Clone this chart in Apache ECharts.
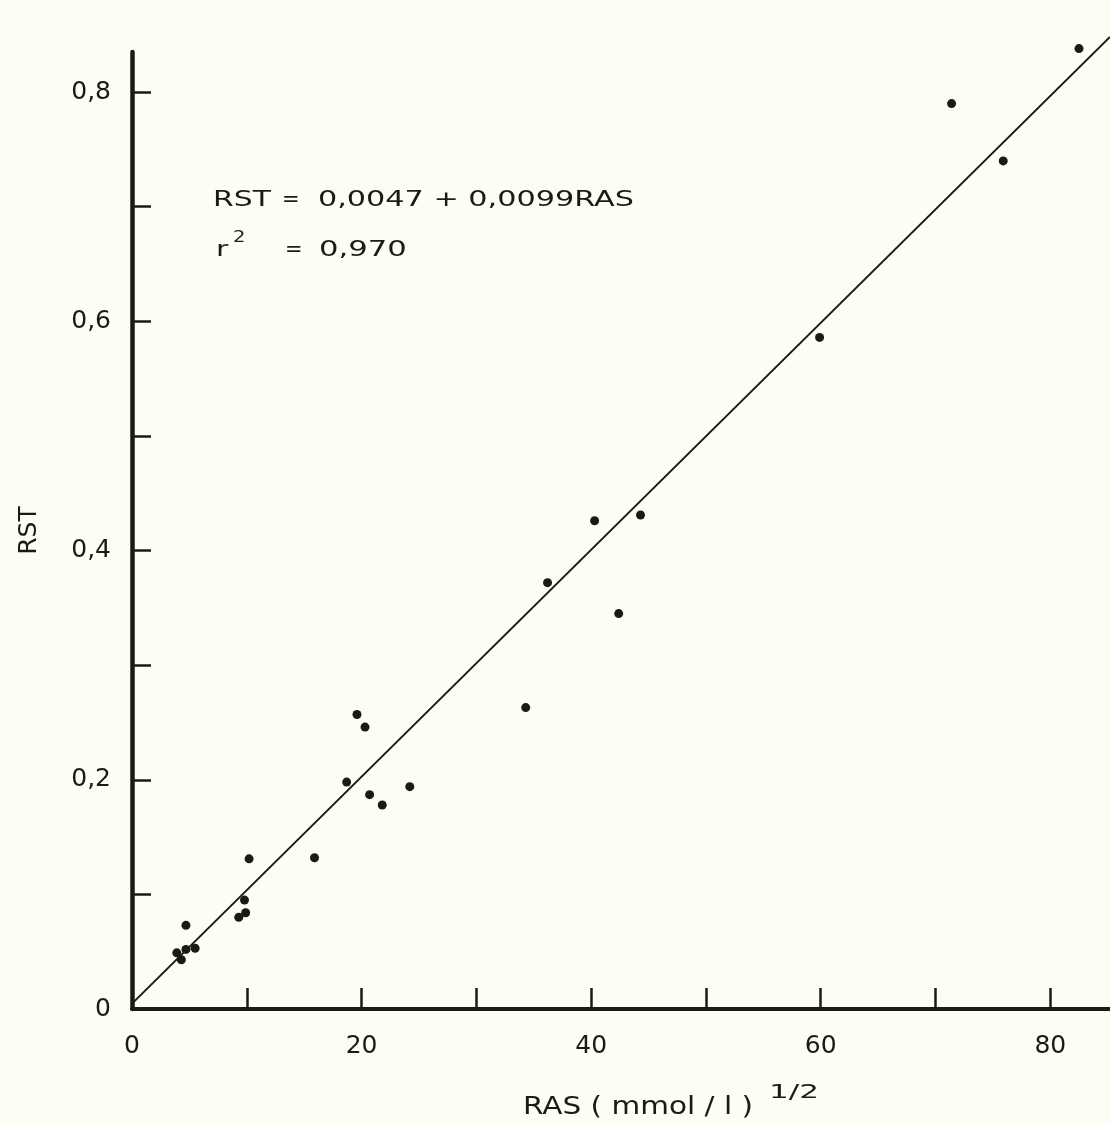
<!DOCTYPE html>
<html>
<head>
<meta charset="utf-8">
<title>RST vs RAS</title>
<script src="https://cdn.jsdelivr.net/npm/echarts@6/dist/echarts.min.js"></script>
<style>
  html, body { margin: 0; padding: 0; background: #fdfdf4; }
  #chart { width: 1110px; height: 1124px; }
</style>
</head>
<body>
<div id="chart"></div>
<script>
// Observations: RAS (mmol/l)^1/2 against RST
const rasValues = [
  19.6, 20.3, 18.7, 20.7, 21.8, 24.2, 15.9, 10.2, 9.8, 9.9, 9.3,
  4.7, 3.9, 4.7, 5.5, 4.3,
  40.3, 44.3, 36.2, 42.4, 34.3,
  82.5, 71.4, 75.9, 59.9
];
const rstValues = [
  0.257, 0.246, 0.198, 0.187, 0.178, 0.194, 0.132, 0.131, 0.095, 0.084, 0.080,
  0.073, 0.049, 0.052, 0.053, 0.043,
  0.426, 0.431, 0.372, 0.345, 0.263,
  0.838, 0.790, 0.740, 0.586
];

// Fitted regression: RST = a + b * RAS
const intercept = 0.0047;
const slope = 0.0099;
const fitRange = [0, 85.2];

// Axis ticks and labels
const xTicks = [10, 20, 30, 40, 50, 60, 70, 80];
const xLabels = [0, 20, 40, 60, 80];
const yTicks = [0.1, 0.2, 0.3, 0.4, 0.5, 0.6, 0.7, 0.8];
const yLabels = [0, 0.2, 0.4, 0.6, 0.8];

const FONT = 'DejaVu Sans';
const INK = '#1b1b16';

const points = rasValues.map((x, i) => [x, rstValues[i]]);
const fitLine = fitRange.map(x => [x, intercept + slope * x]);

const decimalComma = v => String(Math.round(v * 10) / 10).replace('.', ',');

// wide lettering for the annotation block and the x-axis title
const wideText = (text, left, top, size, sx) => ({
  type: 'text', left, top, scaleX: sx,
  style: { text, font: size + 'px "DejaVu Sans"', fill: INK }
});

const chart = echarts.init(document.getElementById('chart'), null, { renderer: 'canvas' });

chart.setOption({
  backgroundColor: '#fdfdf4',
  animation: false,
  grid: { left: 132, right: 0, top: 52, bottom: 115, containLabel: false },
  xAxis: {
    type: 'value',
    min: 0,
    max: 85.2,
    interval: 10,
    splitLine: { show: false },
    axisLine: { show: true, onZero: false, lineStyle: { color: INK, width: 4 } },
    axisTick: { show: true, inside: true, length: 21, customValues: xTicks, lineStyle: { color: INK, width: 2.5 } },
    axisLabel: {
      customValues: xLabels,
      margin: 25,
      color: INK,
      fontFamily: FONT,
      fontSize: 25,
      formatter: v => String(v)
    }
  },
  yAxis: {
    type: 'value',
    min: 0,
    max: 0.835,
    interval: 0.1,
    splitLine: { show: false },
    axisLine: { show: true, onZero: false, lineStyle: { color: INK, width: 4.5 } },
    axisTick: { show: true, inside: true, length: 19, customValues: yTicks, lineStyle: { color: INK, width: 2.5 } },
    axisLabel: {
      customValues: yLabels,
      margin: 21,
      color: INK,
      fontFamily: FONT,
      fontSize: 25,
      formatter: v => decimalComma(v)
    },
    name: 'RST',
    nameLocation: 'middle',
    nameGap: 90,
    nameTextStyle: { fontFamily: FONT, fontSize: 25, color: INK }
  },
  graphic: [
    // regression equation and coefficient of determination
    wideText('RST', 213, 190, 21, 1.42),
    wideText('=', 282, 190, 21, 1.0),
    wideText('0,0047 + 0,0099RAS', 318, 190, 21, 1.44),
    wideText('r', 216, 240, 21, 1.42),
    wideText('2', 233, 231, 15, 1.3),
    wideText('=', 285, 240, 21, 1.0),
    wideText('0,970', 319, 240, 21, 1.46),
    // x-axis title
    wideText('RAS ( mmol / l )', 523, 1095, 25, 1.18),
    wideText('1/2', 769, 1083, 20, 1.55)
  ],
  series: [
    {
      name: 'fit',
      type: 'line',
      data: fitLine,
      showSymbol: false,
      clip: false,
      lineStyle: { color: INK, width: 2 },
      silent: true
    },
    {
      name: 'RST',
      type: 'scatter',
      data: points,
      symbol: 'circle',
      symbolSize: 9,
      clip: false,
      itemStyle: { color: INK, opacity: 1 }
    }
  ]
});
</script>
</body>
</html>
